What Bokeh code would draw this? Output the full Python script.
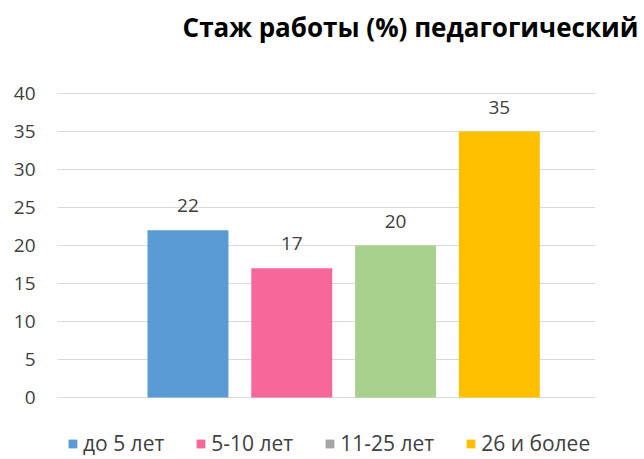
from bokeh.plotting import figure
from bokeh.models import Range1d, FixedTicker, Label, Legend, LegendItem, ColumnDataSource
from bokeh.core.properties import value
from bokeh.embed import file_html
from bokeh.resources import INLINE

title_text = "Стаж работы (%) педагогический"
categories = ["до 5 лет", "5-10 лет", "11-25 лет", "26 и более"]
values = [22, 17, 20, 35]
bar_colors = ["#5B9BD5", "#F7679A", "#A9D18E", "#FFC000"]
legend_colors = ["#5B9BD5", "#F7679A", "#A5A5A5", "#FFC000"]
y_ticks = [0, 5, 10, 15, 20, 25, 30, 35, 40]

FONT = "Open Sans"
xs = [i + 1 for i in range(len(categories))]

# layout constants (data units of the frame)
X0, X1 = -0.286, 5.360
Y0, Y1 = -8.16, 52.24
GRID_X0, GRID_X1 = -0.257, 4.925

p = figure(width=640, height=459, output_backend="svg", toolbar_location=None,
           x_range=Range1d(X0, X1), y_range=Range1d(Y0, Y1),
           min_border_left=54, min_border_right=0, min_border_top=0, min_border_bottom=0)
p.outline_line_color = None
p.background_fill_color = "white"
p.border_fill_color = "white"

p.xaxis.visible = False
p.xgrid.grid_line_color = None
p.ygrid.grid_line_color = None
p.yaxis.ticker = FixedTicker(ticks=y_ticks)
p.yaxis.axis_line_color = None
p.yaxis.major_tick_line_color = None
p.yaxis.minor_tick_line_color = None
p.yaxis.major_tick_out = 0
p.yaxis.major_tick_in = 0
p.yaxis.major_label_standoff = 19
p.yaxis.major_label_text_font = FONT
p.yaxis.major_label_text_font_size = "19px"
p.yaxis.major_label_text_color = "#404040"

# horizontal gridlines at the tick values
p.segment(x0=[GRID_X0] * len(y_ticks), x1=[GRID_X1] * len(y_ticks), y0=y_ticks, y1=y_ticks,
          line_color="#D9D9D9", line_width=1)

src = ColumnDataSource(dict(x=xs, top=values, color=bar_colors,
                            label=[str(v) for v in values]))
p.vbar(x="x", top="top", width=0.78, fill_color="color", line_color=None, source=src)
p.text(x="x", y="top", text="label", source=src, text_align="center", text_baseline="bottom",
       y_offset=-18, text_font=value(FONT), text_font_size="19px", text_color="#404040")

# legend proxies: zero-height bars carrying the legend colours
lsrc = ColumnDataSource(dict(x=xs, top=[0] * len(xs), color=legend_colors))
lr = p.vbar(x="x", top="top", bottom=0, width=0.5, fill_color="color", line_color=None,
            source=lsrc)
items = [LegendItem(label=cat, renderers=[lr], index=i) for i, cat in enumerate(categories)]

legend = Legend(items=items, orientation="horizontal", location=(13, 2),
                glyph_width=11, glyph_height=11, label_standoff=5, spacing=31,
                padding=0, margin=0, border_line_color=None, background_fill_alpha=0,
                label_text_font=FONT, label_text_font_size="21px", label_text_color="#404040")
p.add_layout(legend, "center")

title = Label(x=X1 - 0.02, y=48.69, text=title_text, text_align="right", text_baseline="middle",
              text_font=FONT, text_font_style="bold", text_font_size="26px",
              text_color="#000000")
p.add_layout(title)

open("out.html", "w").write(file_html(p, INLINE))
